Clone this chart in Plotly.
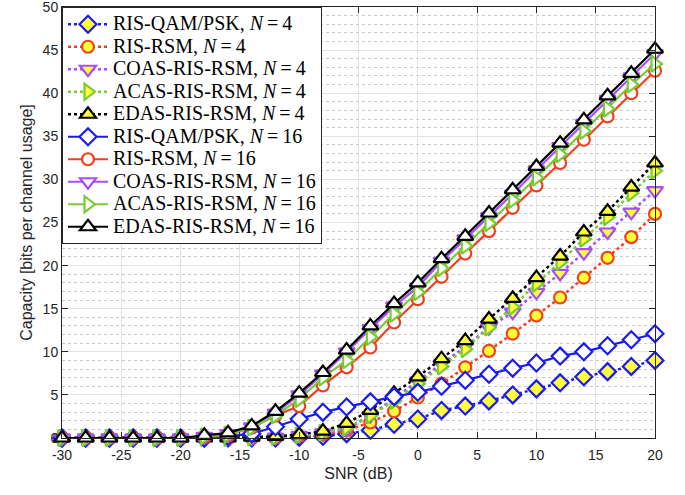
import plotly.graph_objects as go

snr = list(range(-30, 21, 2))

qam4 = [0, 0, 0, 0, 0, 0, 0, 0, 0, 0, 0.1, 0.2, 0.5, 0.9, 1.6, 2.2, 3.2, 3.7, 4.3, 5.0, 5.7, 6.4, 7.1, 7.7, 8.3, 9.0]
rsm4 = [0, 0, 0, 0, 0, 0, 0, 0, 0, 0.05, 0.2, 0.4, 0.9, 1.8, 3.1, 4.7, 6.3, 8.2, 10.1, 12.1, 14.2, 16.3, 18.6, 20.9, 23.3, 26.0]
coas4 = [0, 0, 0, 0, 0, 0, 0, 0, 0, 0.1, 0.3, 0.6, 1.0, 2.6, 4.6, 6.6, 8.6, 10.6, 12.8, 14.6, 16.9, 19.1, 21.5, 23.9, 26.2, 28.7]
acas4 = [0, 0, 0, 0, 0, 0, 0, 0, 0.05, 0.1, 0.3, 0.6, 1.2, 2.6, 4.3, 6.3, 8.3, 10.3, 12.8, 15.2, 17.9, 20.4, 23.1, 25.6, 28.4, 31.0]
edas4 = [0, 0, 0, 0, 0, 0, 0, 0, 0.1, 0.2, 0.4, 0.8, 1.7, 3.2, 5.2, 7.1, 9.2, 11.3, 13.8, 16.2, 18.6, 21.1, 23.9, 26.3, 29.1, 31.9]

qam16 = [0, 0, 0, 0, 0, 0, 0, 0.2, 0.5, 1.3, 2.2, 3.0, 3.6, 4.2, 4.8, 5.3, 6.0, 6.7, 7.4, 8.1, 8.7, 9.5, 10.0, 10.7, 11.4, 12.1]
rsm16 = [0, 0, 0, 0, 0, 0, 0.1, 0.3, 1.2, 2.6, 3.7, 6.1, 8.2, 10.5, 13.4, 16.1, 18.7, 21.4, 24.0, 26.7, 29.3, 31.9, 34.6, 37.3, 40.0, 42.6]
coas16 = [0, 0, 0, 0, 0, 0, 0.2, 0.5, 1.3, 2.9, 5.0, 7.4, 10.0, 12.7, 15.3, 17.5, 20.5, 23.1, 25.7, 28.3, 31.1, 33.8, 36.5, 39.3, 41.9, 44.6]
acas16 = [0, 0, 0, 0, 0, 0, 0.2, 0.4, 1.2, 2.6, 4.5, 7.0, 9.0, 11.7, 14.4, 16.9, 19.7, 22.3, 24.9, 27.6, 30.2, 32.9, 35.6, 38.2, 41.0, 43.4]
edas16 = [0, 0, 0, 0, 0, 0, 0.3, 0.6, 1.4, 3.1, 5.2, 7.6, 10.2, 13.0, 15.6, 18.0, 20.8, 23.4, 26.1, 28.8, 31.5, 34.2, 36.9, 39.7, 42.3, 45.1]

names = ["RIS-QAM/PSK", "RIS-RSM", "COAS-RIS-RSM", "ACAS-RIS-RSM", "EDAS-RIS-RSM"]

x_tickvals = [-30, -25, -20, -15, -10, -5, 0, 5, 10, 15, 20]
x_ticktext = ["-30", "-25", "-20", "-15", "-10", "-5", "0", "5", "10", "15", "20"]
y_tickvals = [0, 5, 10, 15, 20, 25, 30, 35, 40, 45, 50]
y_ticktext = ["0", "5", "10", "15", "20", "25", "30", "35", "40", "45", "50"]

BLUE = "#1a1af5"
RED = "#f0401e"
PURPLE = "#a64dff"
GREEN = "#77cc33"
BLACK = "#000000"
YELLOW = "#ffff3a"

colors = [BLUE, RED, PURPLE, GREEN, BLACK]
symbols = ["diamond", "circle", "triangle-down", "triangle-right", "triangle-up"]
sizes = [13, 12, 14, 14, 14]

series4 = [qam4, rsm4, coas4, acas4, edas4]
series16 = [qam16, rsm16, coas16, acas16, edas16]


def label(name, n):
    return f'<span style="font-size:20px">{name}, <i>N</i>\u2009=\u2009{n}</span>'


fig = go.Figure()

for name, ys, c, sym, sz in zip(names, series4, colors, symbols, sizes):
    fig.add_trace(go.Scatter(
        x=snr, y=ys, mode="lines+markers",
        name=label(name, 4),
        line=dict(color=c, width=2.5, dash="dot"),
        marker=dict(symbol=sym, size=sz, color=YELLOW, line=dict(color=c, width=2.2)),
        cliponaxis=False,
    ))

for name, ys, c, sym, sz in zip(names, series16, colors, symbols, sizes):
    fig.add_trace(go.Scatter(
        x=snr, y=ys, mode="lines+markers",
        name=label(name, 16),
        line=dict(color=c, width=2.2),
        marker=dict(symbol=sym, size=sz, color="white", line=dict(color=c, width=2.2)),
        cliponaxis=False,
    ))

axis_common = dict(
    showline=True, linecolor="#262626", linewidth=1, mirror="allticks",
    ticks="inside", ticklen=6, tickcolor="#262626",
    showgrid=True, gridcolor="#e3e3e3", gridwidth=1,
    zeroline=False, ticklabeloverflow="allow", automargin=False,
    tickfont=dict(family="Liberation Sans, Arial", size=14, color="#262626"),
)

fig.update_xaxes(
    range=[-30, 20], tickvals=x_tickvals, ticktext=x_ticktext,
    title=dict(text="SNR (dB)", font=dict(family="Liberation Sans, Arial", size=16, color="#262626"), standoff=6),
    ticklabelstandoff=4,
    **axis_common,
)
fig.update_yaxes(
    range=[0, 50], tickvals=y_tickvals, ticktext=y_ticktext,
    title=dict(text="Capacity [bits per channel usage]", font=dict(family="Liberation Sans, Arial", size=16, color="#262626"), standoff=6),
    minor=dict(dtick=1, tick0=0, showgrid=True, gridcolor="#c8c8c8", griddash="dot", gridwidth=1, ticks=""),
    **axis_common,
)

fig.update_layout(
    width=685, height=495,
    margin=dict(l=62, r=30, t=7, b=57, autoexpand=False),
    paper_bgcolor="white", plot_bgcolor="white",
    legend=dict(
        x=0, y=1, xanchor="left", yanchor="top",
        bgcolor="white", bordercolor="#262626", borderwidth=1,
        font=dict(family="Liberation Serif, Times New Roman", size=15, color="black"),
        tracegroupgap=0, itemwidth=40,
    ),
    showlegend=True,
)

fig.write_html("out.html")
